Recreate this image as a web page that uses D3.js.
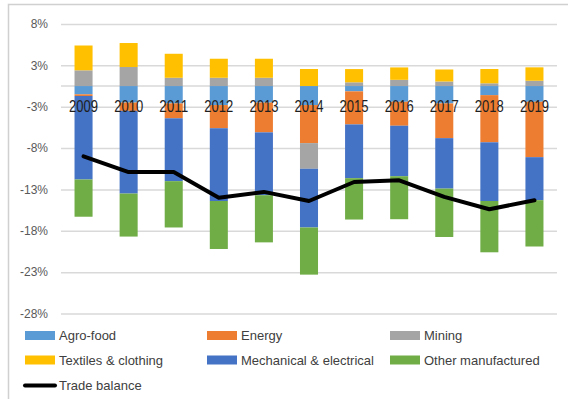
<!DOCTYPE html>
<html>
<head>
<meta charset="utf-8">
<script src="https://cdn.jsdelivr.net/npm/d3@7/dist/d3.min.js"></script>
<style>
  html, body { margin: 0; padding: 0; background: #fff; }
  svg { display: block; }
</style>
</head>
<body>
<svg id="chart" width="568" height="399"></svg>
<script>
// Contributions to the trade balance by product group (% of GDP), 2009-2019
const years = ["2009", "2010", "2011", "2012", "2013", "2014", "2015", "2016", "2017", "2018", "2019"];

const agroFood     = [-1.0, -2.0, -2.1, -2.3, -2.0, -2.3, -0.64, -1.9, -2.1, -1.1, -1.9];
const energy       = [-0.2, -1.0, -1.8, -2.8, -3.6, -4.6, -4.0, -2.9, -4.2, -5.7, -6.7];
const mining       = [1.9, 2.3, 1.0, 1.0, 1.0, -3.1, 0.45, 0.75, 0.55, 0.33, 0.64];
const textiles     = [3.0, 2.9, 2.9, 2.3, 2.3, 2.06, 1.6, 1.5, 1.45, 1.73, 1.62];
const mechanical   = [-10.1, -10.0, -7.6, -8.8, -7.6, -7.1, -6.5, -6.1, -6.1, -7.1, -5.2];
const otherManuf   = [-4.5, -5.2, -5.6, -5.8, -5.7, -5.7, -5.0, -5.2, -5.85, -6.2, -5.6];
const tradeBalance = [-8.5, -10.4, -10.4, -13.5, -12.8, -13.9, -11.6, -11.4, -13.4, -14.9, -13.8];

const seriesNames  = ["Agro-food", "Energy", "Mining", "Textiles & clothing", "Mechanical & electrical", "Other manufactured"];
const seriesColors = ["#5B9BD5", "#ED7D31", "#A5A5A5", "#FFC000", "#4472C4", "#70AD47"];
const lineName = "Trade balance";

const yTickValues = [-27.5, -22.5, -17.5, -12.5, -7.5, -2.5, 2.5, 7.5];
const yTickLabels = ["-28%", "-23%", "-18%", "-13%", "-8%", "-3%", "3%", "8%"];

const seriesValues = [agroFood, energy, mining, textiles, mechanical, otherManuf];
const rows = years.map((yr, i) => {
  const r = { year: yr };
  seriesNames.forEach((n, k) => { r[n] = seriesValues[k][i]; });
  return r;
});

const svg = d3.select("#chart");

// Chart frame
svg.append("rect")
  .attr("x", 8.5).attr("y", 4.5)
  .attr("width", 700).attr("height", 600)
  .attr("fill", "#fff")
  .attr("stroke", "#d0d0d0").attr("stroke-width", 1.5);

const x = d3.scaleBand()
  .domain(years)
  .range([61, 557])
  .paddingInner(0.6)
  .paddingOuter(0.3);

const y = d3.scaleLinear()
  .domain([-27.5, 7.5])
  .range([313.5, 24]);

// Horizontal gridlines and y labels
const yAxis = d3.axisLeft(y)
  .tickValues(yTickValues)
  .tickSize(-(557 - 61))
  .tickPadding(13)
  .tickFormat((d, i) => yTickLabels[i]);

const gy = svg.append("g")
  .attr("transform", "translate(61,0)")
  .call(yAxis);
gy.select(".domain").remove();
gy.selectAll(".tick line").attr("stroke", "#d9d9d9").attr("stroke-width", 1.5);
gy.selectAll(".tick text")
  .attr("fill", "#595959")
  .style("font-family", "'Liberation Sans', Arial, sans-serif")
  .style("font-size", "12px");

// Zero line
svg.append("line")
  .attr("x1", 61).attr("x2", 557)
  .attr("y1", y(0)).attr("y2", y(0))
  .attr("stroke", "#d9d9d9").attr("stroke-width", 1.5);

// Stacked bars (positives above zero, negatives below, in series order)
const stacked = d3.stack()
  .keys(seriesNames)
  .offset(d3.stackOffsetDiverging)(rows);

svg.append("g").selectAll("g")
  .data(stacked)
  .join("g")
  .attr("fill", (d, i) => seriesColors[i])
  .selectAll("rect")
  .data(d => d)
  .join("rect")
  .attr("x", d => x(d.data.year))
  .attr("width", x.bandwidth())
  .attr("y", d => y(Math.max(d[0], d[1])))
  .attr("height", d => Math.abs(y(d[0]) - y(d[1])));

// Category labels sit just under the zero line, in a condensed face
const gx = svg.append("g")
  .attr("transform", `translate(0,${y(0)})`)
  .call(d3.axisBottom(x).tickSize(0).tickPadding(15));
gx.select(".domain").remove();
gx.selectAll(".tick text")
  .attr("fill", "#1f1f1f")
  .attr("textLength", 29)
  .attr("lengthAdjust", "spacingAndGlyphs")
  .style("font-family", "'Liberation Sans', Arial, sans-serif")
  .style("font-size", "16px");

// Trade balance line
const line = d3.line()
  .x((d, i) => x(years[i]) + x.bandwidth() / 2)
  .y(d => y(d));

svg.append("path")
  .datum(tradeBalance)
  .attr("d", line)
  .attr("fill", "none")
  .attr("stroke", "#000")
  .attr("stroke-width", 4)
  .attr("stroke-linejoin", "round")
  .attr("stroke-linecap", "round");

// Legend
const legendCols = [25, 207, 390];
const legendRows = [335.5, 360, 385.5];
const legend = svg.append("g")
  .style("font-family", "'Liberation Sans', Arial, sans-serif")
  .style("font-size", "13px");

seriesNames.forEach((name, i) => {
  const lx = legendCols[i % 3];
  const ly = legendRows[Math.floor(i / 3)];
  legend.append("rect")
    .attr("x", lx).attr("y", ly - 4.5)
    .attr("width", 30).attr("height", 9)
    .attr("fill", seriesColors[i]);
  legend.append("text")
    .attr("x", lx + 34).attr("y", ly)
    .attr("dy", "0.35em")
    .attr("fill", "#404040")
    .text(name);
});

legend.append("line")
  .attr("x1", legendCols[0]).attr("x2", legendCols[0] + 30)
  .attr("y1", legendRows[2]).attr("y2", legendRows[2])
  .attr("stroke", "#000").attr("stroke-width", 4)
  .attr("stroke-linecap", "round");
legend.append("text")
  .attr("x", legendCols[0] + 34).attr("y", legendRows[2])
  .attr("dy", "0.35em")
  .attr("fill", "#404040")
  .text(lineName);
</script>
</body>
</html>
